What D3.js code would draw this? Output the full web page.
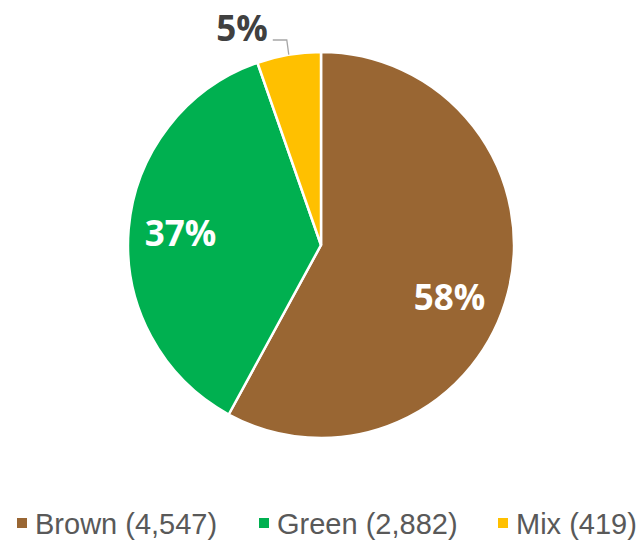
<!DOCTYPE html>
<html>
<head>
<meta charset="utf-8">
<script src="https://cdn.jsdelivr.net/npm/d3@7"></script>
<style>
  html, body { margin: 0; padding: 0; background: #ffffff; }
  svg { display: block; }
</style>
</head>
<body>
<svg id="chart" width="643" height="542"></svg>
<script>
// Share of items by colour
const categories = ["Brown", "Green", "Mix"];
const counts = [4547, 2882, 419];
const pctLabels = ["58%", "37%", "5%"];
const legendLabels = ["Brown (4,547)", "Green (2,882)", "Mix (419)"];
const colors = ["#996633", "#00B050", "#FFC000"];

const svg = d3.select("#chart");
const cx = 321, cy = 245, r = 193;

const data = categories.map((c, i) => ({ name: c, value: counts[i], label: pctLabels[i], color: colors[i] }));

const pie = d3.pie().value(d => d.value).sort(null).startAngle(0).endAngle(2 * Math.PI);
const arcs = pie(data);
const arc = d3.arc().innerRadius(0).outerRadius(r);

const g = svg.append("g").attr("transform", `translate(${cx},${cy})`);

g.selectAll("path.slice")
  .data(arcs)
  .join("path")
  .attr("class", "slice")
  .attr("d", arc)
  .attr("fill", d => d.data.color)
  .attr("stroke", "#ffffff")
  .attr("stroke-width", 2.5)
  .attr("stroke-linejoin", "round");

const labelFont = "'Open Sans', 'Noto Sans', sans-serif";
const labelSize = 35;

// Inside labels for the two large slices, nudged toward the lower part of the big slice
const inside = d3.arc().innerRadius(r * 0.73).outerRadius(r * 0.73);
const nudge = { Brown: [-8, 18], Green: [0, 0] };
g.selectAll("text.inlabel")
  .data(arcs.filter(d => d.data.name !== "Mix"))
  .join("text")
  .attr("class", "inlabel")
  .attr("transform", d => {
    const [x, y] = inside.centroid(d);
    const [nx, ny] = nudge[d.data.name];
    return `translate(${x + nx},${y + ny})`;
  })
  .attr("text-anchor", "middle")
  .attr("dy", "0.36em")
  .attr("fill", "#ffffff")
  .attr("font-family", labelFont)
  .attr("font-weight", 700)
  .attr("font-size", labelSize)
  .text(d => d.data.label);

// Outside label with leader line for the small slice
const mix = arcs[2];
const mid = (mix.startAngle + mix.endAngle) / 2;
const edge = [Math.sin(mid) * r, -Math.cos(mid) * r];
const elbow = [edge[0] - 2, -r - 12];
const lineEnd = [elbow[0] - 14, elbow[1]];
g.append("polyline")
  .attr("points", [edge, elbow, lineEnd].map(p => p.join(",")).join(" "))
  .attr("fill", "none")
  .attr("stroke", "#A6A6A6")
  .attr("stroke-width", 1.3);
g.append("text")
  .attr("x", lineEnd[0] - 5)
  .attr("y", lineEnd[1] - 12)
  .attr("text-anchor", "end")
  .attr("dy", "0.36em")
  .attr("fill", "#404040")
  .attr("font-family", labelFont)
  .attr("font-weight", 700)
  .attr("font-size", labelSize)
  .text(mix.data.label);

// Legend
const legendX = [17, 259, 498];
const legend = svg.append("g");
legendLabels.forEach((t, i) => {
  legend.append("rect")
    .attr("x", legendX[i]).attr("y", 518)
    .attr("width", 10).attr("height", 10)
    .attr("fill", colors[i]);
  legend.append("text")
    .attr("x", legendX[i] + 18).attr("y", 534)
    .attr("fill", "#595959")
    .attr("font-family", "'Liberation Sans', Arial, sans-serif")
    .attr("font-size", 29)
    .attr("textLength", null)
    .text(t);
});
</script>
</body>
</html>
